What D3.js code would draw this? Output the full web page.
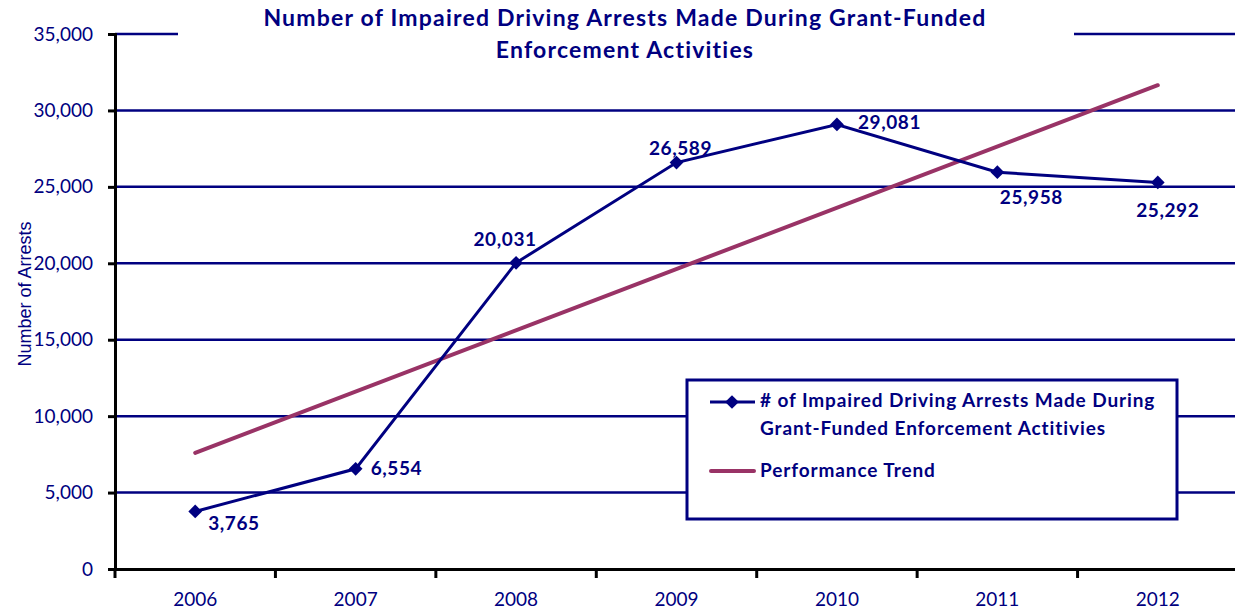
<!DOCTYPE html>
<html>
<head>
<meta charset="utf-8">
<script src="https://cdn.jsdelivr.net/npm/d3@7"></script>
<style>
  body { margin: 0; background: #fff; }
  svg { display: block; }
</style>
</head>
<body>
<svg width="1235" height="616"></svg>
<script>
// data
var years = ["2006", "2007", "2008", "2009", "2010", "2011", "2012"];
var arrests = [3765, 6554, 20031, 26589, 29081, 25958, 25292];
var trendEnds = [7600, 31650];   // performance trend at 2006 and at 2012
var yTicks = [0, 5000, 10000, 15000, 20000, 25000, 30000, 35000];
var titleLines = ["Number of Impaired Driving Arrests Made During Grant-Funded", "Enforcement Activities"];
var legendLines = ["# of Impaired Driving Arrests Made During", "Grant-Funded Enforcement Actitivies"];

var navy = "#000080",
    plum = "#993366",
    font = "Lato, 'Open Sans', sans-serif";

var svg = d3.select("svg"),
    margin = {top: 34, right: -3, bottom: 47, left: 115},
    width = svg.attr("width") - margin.left - margin.right,
    height = svg.attr("height") - margin.top - margin.bottom,
    g = svg.append("g").attr("transform", "translate(" + margin.left + "," + margin.top + ")");

var xScale = d3.scaleBand().domain(years).range([0, width]),
    yScale = d3.scaleLinear().domain([0, 35000]).range([height, 0]);

function cx(d, i) { return xScale(years[i]) + xScale.bandwidth() / 2; }

// gridlines
g.append("g").selectAll("line")
    .data(yTicks.slice(1))
    .enter().append("line")
    .attr("x1", 0).attr("x2", width)
    .attr("y1", function (d) { return yScale(d); })
    .attr("y2", function (d) { return yScale(d); })
    .attr("stroke", navy)
    .attr("stroke-width", 2.5);

// y axis
var yAxis = d3.axisLeft(yScale).tickValues(yTicks).tickFormat(d3.format(",")).tickSize(7).tickPadding(15);
var gY = g.append("g").call(yAxis);
gY.select(".domain").attr("stroke", "#000").attr("stroke-width", 3);
gY.selectAll(".tick line").attr("stroke", "#000").attr("stroke-width", 3);
gY.selectAll(".tick text")
    .attr("fill", navy)
    .style("font", "19px " + font);

// x axis: labels centred in bands, ticks on band edges
var xAxis = d3.axisBottom(xScale).tickSize(0).tickPadding(24);
var gX = g.append("g").attr("transform", "translate(0," + height + ")").call(xAxis);
gX.select(".domain").attr("stroke", "#000").attr("stroke-width", 3);
gX.selectAll(".tick text")
    .attr("fill", navy)
    .style("font", "19px " + font);
gX.selectAll(".edge")
    .data(d3.range(years.length + 1))
    .enter().append("line")
    .attr("x1", function (i) { return i * xScale.step(); })
    .attr("x2", function (i) { return i * xScale.step(); })
    .attr("y1", 0).attr("y2", 9)
    .attr("stroke", "#000")
    .attr("stroke-width", 3);

// y axis title
svg.append("text")
    .attr("transform", "translate(31,294) rotate(-90)")
    .attr("text-anchor", "middle")
    .attr("fill", navy)
    .style("font", "18px 'Liberation Sans Narrow', 'Liberation Sans', sans-serif")
    .text("Number of Arrests");

// title with white backing that cuts the top gridline
svg.append("rect")
    .attr("x", 178).attr("y", 0)
    .attr("width", 896).attr("height", 64)
    .attr("fill", "#fff");
svg.append("g").selectAll("text")
    .data(titleLines)
    .enter().append("text")
    .attr("x", 625)
    .attr("y", function (d, i) { return 26 + i * 32; })
    .attr("text-anchor", "middle")
    .attr("fill", navy)
    .style("font", "bold 23px " + font)
    .style("letter-spacing", "1.2px")
    .text(function (d) { return d; });

// trend line
var trendX = [xScale(years[0]) + xScale.bandwidth() / 2, xScale(years[years.length - 1]) + xScale.bandwidth() / 2];
g.append("line")
    .attr("x1", trendX[0]).attr("x2", trendX[1])
    .attr("y1", yScale(trendEnds[0])).attr("y2", yScale(trendEnds[1]))
    .attr("stroke", plum)
    .attr("stroke-width", 4)
    .attr("stroke-linecap", "round");

// arrests series
var line = d3.line()
    .x(cx)
    .y(function (d) { return yScale(d); });

g.append("path")
    .datum(arrests)
    .attr("d", line)
    .attr("fill", "none")
    .attr("stroke", navy)
    .attr("stroke-width", 3);

var diamond = d3.symbol().type(d3.symbolDiamond2).size(120);
g.selectAll(".pt")
    .data(arrests)
    .enter().append("path")
    .attr("transform", function (d, i) { return "translate(" + cx(d, i) + "," + yScale(d) + ")"; })
    .attr("d", diamond)
    .attr("fill", navy);

// data labels, offsets from each marker
var labelPos = [
    {dx: 13, dy: 19, anchor: "start"},
    {dx: 15, dy: 6, anchor: "start"},
    {dx: -11, dy: -17, anchor: "middle"},
    {dx: 4, dy: -8, anchor: "middle"},
    {dx: 21, dy: 5, anchor: "start"},
    {dx: 34, dy: 32, anchor: "middle"},
    {dx: 10, dy: 35, anchor: "middle"}
];
g.selectAll(".lbl")
    .data(arrests)
    .enter().append("text")
    .attr("x", function (d, i) { return cx(d, i) + labelPos[i].dx; })
    .attr("y", function (d, i) { return yScale(d) + labelPos[i].dy; })
    .attr("text-anchor", function (d, i) { return labelPos[i].anchor; })
    .attr("fill", navy)
    .style("font", "bold 19px " + font)
    .style("letter-spacing", "0.6px")
    .text(function (d) { return d3.format(",")(d); });

// legend
var legend = svg.append("g").attr("transform", "translate(687,380)");
legend.append("rect")
    .attr("width", 490).attr("height", 139)
    .attr("fill", "#fff")
    .attr("stroke", navy)
    .attr("stroke-width", 3);
legend.append("line")
    .attr("x1", 23).attr("x2", 68).attr("y1", 22).attr("y2", 22)
    .attr("stroke", navy).attr("stroke-width", 3);
legend.append("path")
    .attr("transform", "translate(45,22)")
    .attr("d", diamond)
    .attr("fill", navy);
legend.append("g").selectAll("text")
    .data(legendLines)
    .enter().append("text")
    .attr("x", 73)
    .attr("y", function (d, i) { return 27 + i * 28; })
    .attr("fill", navy)
    .style("font", "bold 19px " + font)
    .style("letter-spacing", "0.9px")
    .text(function (d) { return d; });
legend.append("line")
    .attr("x1", 24).attr("x2", 67).attr("y1", 91).attr("y2", 91)
    .attr("stroke", plum).attr("stroke-width", 4)
    .attr("stroke-linecap", "round");
legend.append("text")
    .attr("x", 73).attr("y", 97)
    .attr("fill", navy)
    .style("font", "bold 19px " + font)
    .style("letter-spacing", "0.9px")
    .text("Performance Trend");
</script>
</body>
</html>
